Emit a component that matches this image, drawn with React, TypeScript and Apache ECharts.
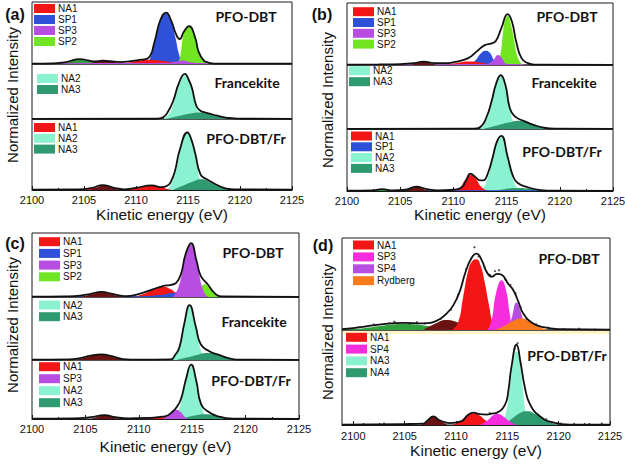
import React, { useEffect, useRef } from "react";
import * as echarts from "echarts";

type Pt = [number, number];

// ---------- colours ----------
const RED = "#f31616";
const BLUE = "#2f50d8";
const VIOLET = "#b84de2";
const LIME = "#72e522";
const AQUA = "#8af2d0";
const TEAL = "#2f9a70";
const DARKRED = "#6b1212";
const SGREEN = "#2fa03c";
const MAGENTA = "#f52ddf";
const ORANGE = "#fb7a1e";

// ---------- tick labels ----------
const xTicksMajor = [2100, 2105, 2110, 2115, 2120, 2125];
const xTicksMinor = [2102.5, 2107.5, 2112.5, 2117.5, 2122.5];

// ---------- panel (a) ----------
const aTopEnvelope: Pt[] = [[2100,0.005],[2102,0.01],[2103.3,0.03],[2104.6,0.08],[2105.5,0.055],[2106,0.04],[2106.8,0.055],[2107.5,0.045],[2108.5,0.03],[2109.5,0.045],[2110.5,0.07],[2111.2,0.1],[2111.8,0.37],[2112.3,0.69],[2112.9,0.83],[2113.4,0.69],[2113.85,0.48],[2114.2,0.4],[2114.6,0.52],[2115.1,0.61],[2115.7,0.42],[2116.0,0.21],[2116.5,0.06],[2117,0.02],[2117.5,0.005],[2125,0.005]];
const aTopSP1: Pt[] = [[2110.8,0],[2111.3,0.07],[2111.8,0.34],[2112.3,0.67],[2112.9,0.82],[2113.4,0.67],[2113.8,0.42],[2114.1,0.18],[2114.4,0.04],[2114.7,0]];
const aTopSP2: Pt[] = [[2114.0,0],[2114.25,0.12],[2114.5,0.42],[2114.75,0.56],[2115.1,0.6],[2115.5,0.5],[2115.8,0.34],[2116.1,0.16],[2116.5,0.04],[2117,0.005],[2117.3,0]];
const aTopNA1: Pt[] = [[2108.5,0],[2109.5,0.03],[2110.5,0.06],[2111.2,0.07],[2112,0.06],[2113,0.04],[2114,0.015],[2114.5,0]];
const aTopSP3: Pt[] = [[2102.5,0],[2103,0.012],[2108,0.015],[2113,0.02],[2114.1,0.045],[2114.5,0.055],[2114.9,0.04],[2115.6,0.02],[2117,0.01],[2117.3,0]];
const aTopGreen: Pt[] = [[2103,0],[2103.8,0.04],[2104.6,0.075],[2105.4,0.05],[2106.2,0.02],[2107,0]];
const aTopDark: Pt[] = [[2105.3,0],[2106.2,0.035],[2106.9,0.05],[2107.7,0.035],[2108.7,0]];

const aMidEnvelope: Pt[] = [[2100,0.003],[2112,0.005],[2112.6,0.03],[2113.1,0.14],[2113.6,0.34],[2114.1,0.64],[2114.7,0.82],[2115.1,0.7],[2115.4,0.55],[2115.8,0.24],[2116.2,0.15],[2116.6,0.12],[2117.2,0.09],[2117.8,0.06],[2118.5,0.03],[2119.2,0.015],[2120,0.005],[2125,0.003]];
const aMidNA2: Pt[] = [[2112.6,0],[2113.2,0.1],[2113.7,0.34],[2114.2,0.64],[2114.7,0.8],[2115.2,0.64],[2115.6,0.36],[2116.0,0.13],[2116.4,0.03],[2116.8,0]];
const aMidNA3: Pt[] = [[2112.8,0],[2114,0.05],[2115.2,0.1],[2116.1,0.12],[2117,0.09],[2118,0.04],[2119,0.005],[2119.3,0]];

const aBotEnvelope: Pt[] = [[2100,0.005],[2104.5,0.008],[2105.8,0.03],[2106.8,0.07],[2107.8,0.035],[2108.8,0.01],[2110,0.03],[2111.5,0.065],[2112.5,0.04],[2113,0.06],[2113.3,0.1],[2113.75,0.27],[2114.2,0.56],[2114.95,0.81],[2115.3,0.72],[2115.7,0.51],[2116.2,0.22],[2116.8,0.15],[2117.8,0.07],[2118.7,0.02],[2119.5,0.008],[2125,0.005]];
const aBotNA1: Pt[] = [[2104.8,0],[2105.8,0.025],[2106.6,0.03],[2107.5,0.02],[2108.5,0.005],[2110,0.03],[2110.8,0.05],[2111.5,0.06],[2112.3,0.045],[2113,0.015],[2113.5,0]];
const aBotDark: Pt[] = [[2105.6,0],[2106.3,0.04],[2106.9,0.06],[2107.6,0.035],[2108.3,0]];
const aBotNA2: Pt[] = [[2113,0],[2113.6,0.15],[2114.1,0.45],[2114.5,0.7],[2114.95,0.8],[2115.4,0.68],[2115.8,0.4],[2116.2,0.12],[2116.6,0.02],[2117,0]];
const aBotNA3: Pt[] = [[2113.5,0],[2114.5,0.06],[2115.5,0.12],[2116.3,0.15],[2117.2,0.1],[2118.2,0.04],[2119,0.005],[2119.3,0]];

// ---------- panel (b) ----------
const bTopEnvelope: Pt[] = [[2100,0.005],[2103,0.01],[2105,0.015],[2106.3,0.03],[2107.2,0.055],[2108.2,0.03],[2109.2,0.03],[2110.15,0.05],[2111.4,0.11],[2112.2,0.22],[2112.95,0.32],[2113.6,0.35],[2114.0,0.39],[2114.5,0.59],[2115.1,0.82],[2115.5,0.7],[2115.9,0.38],[2116.4,0.11],[2117,0.03],[2117.6,0.005],[2125,0.003]];
const bTopSP2: Pt[] = [[2114.1,0],[2114.4,0.15],[2114.65,0.5],[2114.85,0.72],[2115.1,0.8],[2115.4,0.66],[2115.7,0.4],[2116.0,0.15],[2116.4,0.02],[2116.6,0]];
const bTopSP1: Pt[] = [[2111.6,0],[2112.1,0.08],[2112.6,0.19],[2113.0,0.23],[2113.4,0.2],[2113.8,0.08],[2114.1,0]];
const bTopSP3: Pt[] = [[2102,0],[2102.5,0.01],[2113,0.015],[2113.7,0.07],[2114.2,0.16],[2114.6,0.1],[2115.0,0.02],[2116.5,0.01],[2117,0]];
const bTopNA1: Pt[] = [[2109,0],[2110.2,0.03],[2111.5,0.055],[2112.5,0.04],[2113.5,0.01],[2114,0]];
const bTopDark: Pt[] = [[2106,0],[2106.7,0.035],[2107.2,0.05],[2107.8,0.03],[2108.5,0]];

const bMidEnvelope: Pt[] = [[2100,0.003],[2112,0.005],[2112.6,0.04],[2113.1,0.18],[2113.6,0.44],[2114.0,0.7],[2114.45,0.84],[2114.9,0.68],[2115.3,0.33],[2115.75,0.2],[2116.7,0.12],[2117.6,0.06],[2118.5,0.02],[2119.5,0.005],[2125,0.003]];
const bMidNA2: Pt[] = [[2112.5,0],[2113,0.1],[2113.5,0.36],[2114,0.7],[2114.45,0.82],[2114.9,0.66],[2115.3,0.32],[2115.7,0.09],[2116.1,0.01],[2116.3,0]];
const bMidNA3: Pt[] = [[2112.8,0],[2114,0.05],[2115.2,0.1],[2116.2,0.13],[2117.2,0.09],[2118.2,0.03],[2118.8,0]];

const bBotEnvelope: Pt[] = [[2100,0.005],[2102.5,0.01],[2103.3,0.03],[2104.3,0.01],[2105.5,0.02],[2106.5,0.07],[2107.5,0.03],[2108.5,0.01],[2110,0.02],[2110.8,0.06],[2111.2,0.17],[2111.6,0.28],[2112.1,0.22],[2112.5,0.17],[2112.8,0.17],[2113.25,0.29],[2113.7,0.55],[2114.1,0.8],[2114.5,0.89],[2115.1,0.55],[2115.6,0.24],[2116.05,0.13],[2117,0.06],[2118.2,0.015],[2119.5,0.005],[2125,0.003]];
const bBotNA1: Pt[] = [[2110,0],[2110.6,0.05],[2111.1,0.18],[2111.6,0.27],[2112.1,0.2],[2112.6,0.07],[2113.2,0.01],[2113.5,0]];
const bBotSP1: Pt[] = [[2102,0],[2102.5,0.012],[2119,0.012],[2119.5,0]];
const bBotNA2: Pt[] = [[2112.5,0],[2113.1,0.14],[2113.6,0.5],[2114.1,0.8],[2114.5,0.87],[2114.9,0.74],[2115.3,0.42],[2115.7,0.14],[2116.1,0.03],[2116.5,0]];
const bBotNA3: Pt[] = [[2113.5,0],[2114.8,0.03],[2116,0.05],[2117,0.04],[2118.5,0.01],[2119,0]];
const bBotDark: Pt[] = [[2105.5,0],[2106,0.04],[2106.5,0.065],[2107,0.045],[2107.7,0]];
const bBotGreen: Pt[] = [[2102.5,0],[2103.3,0.025],[2104.2,0]];

// ---------- panel (c) ----------
const cTopEnvelope: Pt[] = [[2100,0.005],[2103,0.01],[2104.5,0.02],[2105.5,0.05],[2106.5,0.08],[2107.5,0.05],[2108.8,0.015],[2110.05,0.05],[2111.3,0.12],[2112.25,0.17],[2113.0,0.19],[2113.5,0.22],[2113.95,0.36],[2114.4,0.68],[2114.9,0.84],[2115.4,0.57],[2115.8,0.33],[2116.45,0.2],[2117.1,0.06],[2117.7,0.01],[2125,0.003]];
const cTopSP3: Pt[] = [[2113.2,0],[2113.7,0.15],[2114.2,0.5],[2114.55,0.74],[2114.9,0.82],[2115.25,0.68],[2115.6,0.4],[2116,0.12],[2116.4,0.01],[2116.6,0]];
const cTopSP2: Pt[] = [[2114.8,0],[2115.3,0.06],[2115.8,0.16],[2116.2,0.2],[2116.6,0.15],[2117.1,0.05],[2117.5,0]];
const cTopNA1: Pt[] = [[2109.5,0],[2110.5,0.05],[2111.5,0.13],[2112.25,0.16],[2113,0.12],[2113.6,0.05],[2114.2,0]];
const cTopSP1: Pt[] = [[2102.5,0],[2103,0.01],[2110,0.012],[2112,0.03],[2113.6,0.065],[2114.5,0.04],[2116,0.015],[2117.5,0.008],[2118,0]];
const cTopDark: Pt[] = [[2104.5,0],[2105.5,0.04],[2106.5,0.075],[2107.5,0.04],[2108.5,0]];

const cMidEnvelope: Pt[] = [[2100,0.005],[2103.5,0.01],[2104.5,0.03],[2105.5,0.07],[2106.5,0.09],[2107.5,0.06],[2108.5,0.015],[2110,0.005],[2113,0.01],[2113.4,0.08],[2113.8,0.2],[2114.25,0.57],[2114.75,0.87],[2115.35,0.52],[2115.8,0.25],[2116.6,0.14],[2117.5,0.08],[2118.8,0.015],[2119.5,0.005],[2125,0.003]];
const cMidNA2: Pt[] = [[2113,0],[2113.5,0.1],[2113.9,0.3],[2114.3,0.65],[2114.75,0.85],[2115.2,0.6],[2115.6,0.28],[2116,0.08],[2116.4,0]];
const cMidNA3: Pt[] = [[2113.5,0],[2115,0.06],[2116.5,0.11],[2117.5,0.07],[2118.5,0.02],[2119,0]];
const cMidDark: Pt[] = [[2104.3,0],[2105.3,0.05],[2106.5,0.09],[2107.5,0.05],[2108.5,0]];

const cBotEnvelope: Pt[] = [[2100,0.005],[2104,0.01],[2105.5,0.03],[2106.8,0.065],[2107.8,0.03],[2109,0.01],[2111,0.02],[2112.2,0.04],[2112.55,0.05],[2113,0.1],[2113.5,0.19],[2113.95,0.34],[2114.4,0.66],[2114.9,0.92],[2115.4,0.63],[2115.8,0.27],[2116.45,0.13],[2117.5,0.04],[2118.8,0.005],[2125,0.003]];
const cBotNA2: Pt[] = [[2113.2,0],[2113.7,0.12],[2114.1,0.45],[2114.5,0.8],[2114.9,0.9],[2115.3,0.72],[2115.7,0.35],[2116.1,0.1],[2116.5,0.01],[2116.7,0]];
const cBotNA3: Pt[] = [[2113.8,0],[2115,0.05],[2116.3,0.08],[2117.3,0.06],[2118.5,0.01],[2119,0]];
const cBotSP3: Pt[] = [[2112.2,0],[2112.8,0.06],[2113.4,0.16],[2113.9,0.12],[2114.3,0.04],[2114.6,0]];
const cBotNA1: Pt[] = [[2110.5,0],[2111.5,0.025],[2112.3,0.03],[2113,0.01],[2113.3,0]];
const cBotDark: Pt[] = [[2105.5,0],[2106.2,0.04],[2106.8,0.065],[2107.5,0.03],[2108.2,0]];

// ---------- panel (d) ----------
const dTopEnvelope: Pt[] = [[2098.9,0.01],[2100,0.02],[2102.3,0.055],[2104.9,0.077],[2106.8,0.073],[2108.1,0.1],[2109.1,0.18],[2109.75,0.27],[2110.4,0.43],[2110.9,0.62],[2111.5,0.78],[2112.0,0.83],[2112.5,0.76],[2113,0.63],[2113.5,0.58],[2114.0,0.61],[2114.45,0.6],[2115.1,0.5],[2115.6,0.43],[2116.1,0.3],[2116.55,0.18],[2117.4,0.08],[2118.5,0.03],[2120.1,0.01],[2125,0.005]];
const dTopNA1: Pt[] = [[2109.6,0],[2110.2,0.08],[2110.7,0.36],[2111.2,0.65],[2111.6,0.75],[2112.0,0.77],[2112.4,0.7],[2112.8,0.52],[2113.2,0.28],[2113.6,0.06],[2113.9,0]];
const dTopSP3: Pt[] = [[2113.1,0],[2113.5,0.12],[2113.9,0.4],[2114.45,0.54],[2114.9,0.42],[2115.2,0.2],[2115.5,0.02],[2115.7,0]];
const dTopSP4: Pt[] = [[2115.0,0],[2115.4,0.12],[2115.9,0.3],[2116.3,0.2],[2116.7,0.03],[2116.9,0]];
const dTopRydberg: Pt[] = [[2113.8,0],[2114.8,0.05],[2115.6,0.1],[2116.4,0.125],[2117.2,0.09],[2118.2,0.03],[2119,0]];
const dTopDark: Pt[] = [[2106.8,0],[2107.8,0.06],[2109.1,0.11],[2110.3,0.08],[2111.5,0.035],[2112.7,0]];
const dTopGreen: Pt[] = [[2099,0],[2101,0.02],[2103,0.05],[2104.9,0.065],[2106.5,0.055],[2108.2,0.025],[2109.7,0]];
const dTopDots: Pt[] = [[2100.5,0.03],[2102,0.06],[2103.5,0.075],[2104,0.09],[2105.5,0.07],[2106.2,0.085],[2107,0.07],[2108.5,0.12],[2109.5,0.22],[2110.2,0.38],[2111.0,0.66],[2111.8,0.9],[2112.2,0.8],[2112.8,0.68],[2113.3,0.6],[2113.8,0.64],[2114.2,0.65],[2114.8,0.55],[2115.3,0.49],[2115.8,0.4],[2116.3,0.25],[2116.9,0.12],[2117.8,0.06],[2119,0.025],[2120.5,0.01],[2122,0.015],[2123.5,0.005]];

const dBotEnvelope: Pt[] = [[2098.9,0.005],[2105,0.01],[2106.8,0.015],[2107.2,0.045],[2107.8,0.09],[2108.4,0.05],[2109.4,0.02],[2110.55,0.04],[2111.1,0.1],[2111.7,0.13],[2112.3,0.115],[2113,0.11],[2113.5,0.12],[2114,0.13],[2114.8,0.22],[2115.1,0.36],[2115.4,0.61],[2115.9,0.845],[2116.3,0.65],[2116.7,0.4],[2117.2,0.22],[2118.2,0.09],[2119.5,0.025],[2121.1,0.005],[2125,0.005]];
const dBotNA3: Pt[] = [[2114.2,0],[2114.8,0.1],[2115.3,0.45],[2115.6,0.7],[2115.9,0.78],[2116.2,0.68],[2116.5,0.4],[2116.8,0.12],[2117.1,0.02],[2117.3,0]];
const dBotNA4: Pt[] = [[2114.6,0],[2115.5,0.07],[2116.3,0.13],[2117.0,0.145],[2117.8,0.11],[2118.7,0.05],[2119.6,0.01],[2120,0]];
const dBotSP4: Pt[] = [[2112.3,0],[2113.1,0.05],[2113.6,0.1],[2114.1,0.115],[2114.6,0.09],[2115.2,0.04],[2115.8,0.005],[2116,0]];
const dBotNA1: Pt[] = [[2109.6,0],[2110.4,0.04],[2111.1,0.1],[2111.7,0.125],[2112.3,0.1],[2113,0.04],[2113.7,0.005],[2114,0]];
const dBotDark: Pt[] = [[2106.6,0],[2107.2,0.04],[2107.8,0.085],[2108.4,0.045],[2109.2,0]];
const dBotDots: Pt[] = [[2101,0.01],[2103,0.015],[2105.5,0.012],[2109,0.025],[2113.3,0.125],[2115.7,0.8],[2116.0,0.86],[2118.8,0.06],[2120.2,0.015],[2121.5,0.012],[2123,0.01],[2124.2,0.015]];

// ---------- legends ----------
const legA1: [string, string][] = [["NA1", RED], ["SP1", BLUE], ["SP3", VIOLET], ["SP2", LIME]];
const legA2: [string, string][] = [["NA2", AQUA], ["NA3", TEAL]];
const legA3: [string, string][] = [["NA1", RED], ["NA2", AQUA], ["NA3", TEAL]];
const legB1: [string, string][] = [["NA1", RED], ["SP1", BLUE], ["SP3", VIOLET], ["SP2", LIME]];
const legB2: [string, string][] = [["NA2", AQUA], ["NA3", TEAL]];
const legB3: [string, string][] = [["NA1", RED], ["SP1", BLUE], ["NA2", AQUA], ["NA3", TEAL]];
const legC1: [string, string][] = [["NA1", RED], ["SP1", BLUE], ["SP3", VIOLET], ["SP2", LIME]];
const legC2: [string, string][] = [["NA2", AQUA], ["NA3", TEAL]];
const legC3: [string, string][] = [["NA1", RED], ["SP3", VIOLET], ["NA2", AQUA], ["NA3", TEAL]];
const legD1: [string, string][] = [["NA1", RED], ["SP3", MAGENTA], ["SP4", VIOLET], ["Rydberg", ORANGE]];
const legD2: [string, string][] = [["NA1", RED], ["SP4", MAGENTA], ["NA3", AQUA], ["NA4", TEAL]];

const AXIS_FONT = "'Liberation Sans', Arial, sans-serif";
const BOLD_FONT = "Lato, 'Open Sans', sans-serif";

interface Sub {
  left: number; top: number; width: number; height: number; xmin: number;
  comps: [Pt[], string][]; env: Pt[]; dots?: Pt[];
  axis?: { labelMargin: number; nameGap: number; custom?: boolean };
  sample: string; sx: number; sy: number;
  legend: [string, string][]; lx: number; ly: number; lstep: number;
}

const SMOOTH = 0.5;

function buildOption() {
  const subs: Sub[] = [
    { left: 32, top: 2, width: 260, height: 62, xmin: 2100, comps: [[aTopSP1, BLUE], [aTopSP2, LIME], [aTopNA1, RED], [aTopGreen, SGREEN], [aTopDark, DARKRED], [aTopSP3, VIOLET]], env: aTopEnvelope, sample: "PFO-DBT", sx: 246, sy: 16, legend: legA1, lx: 34, ly: 8.5, lstep: 11 },
    { left: 32, top: 64, width: 260, height: 55, xmin: 2100, comps: [[aMidNA2, AQUA], [aMidNA3, TEAL]], env: aMidEnvelope, sample: "Francekite", sx: 247, sy: 82, legend: legA2, lx: 37, ly: 78.5, lstep: 11 },
    { left: 32, top: 119, width: 260, height: 71, xmin: 2100, comps: [[aBotNA2, AQUA], [aBotNA3, TEAL], [aBotNA1, RED], [aBotDark, DARKRED]], env: aBotEnvelope, axis: { labelMargin: 4, nameGap: 16 }, sample: "PFO-DBT/Fr", sx: 246, sy: 138, legend: legA3, lx: 34, ly: 127.5, lstep: 10.8 },

    { left: 347, top: 3, width: 266, height: 62, xmin: 2100, comps: [[bTopSP2, LIME], [bTopSP1, BLUE], [bTopNA1, RED], [bTopSP3, VIOLET], [bTopDark, DARKRED]], env: bTopEnvelope, sample: "PFO-DBT", sx: 567, sy: 16, legend: legB1, lx: 353, ly: 11.7, lstep: 10.8 },
    { left: 347, top: 65, width: 266, height: 64, xmin: 2100, comps: [[bMidNA2, AQUA], [bMidNA3, TEAL]], env: bMidEnvelope, sample: "Francekite", sx: 564, sy: 82, legend: legB2, lx: 349, ly: 70.7, lstep: 11 },
    { left: 347, top: 129, width: 266, height: 62, xmin: 2100, comps: [[bBotNA2, AQUA], [bBotNA3, TEAL], [bBotNA1, RED], [bBotSP1, BLUE], [bBotDark, DARKRED], [bBotGreen, SGREEN]], env: bBotEnvelope, axis: { labelMargin: 4, nameGap: 15 }, sample: "PFO-DBT/Fr", sx: 562, sy: 151, legend: legB3, lx: 351, ly: 136, lstep: 10.8 },

    { left: 32, top: 233, width: 267, height: 64, xmin: 2100, comps: [[cTopNA1, RED], [cTopSP1, BLUE], [cTopSP2, LIME], [cTopSP3, VIOLET], [cTopDark, DARKRED]], env: cTopEnvelope, sample: "PFO-DBT", sx: 253, sy: 252, legend: legC1, lx: 39, ly: 241.7, lstep: 11.7 },
    { left: 32, top: 297, width: 267, height: 63, xmin: 2100, comps: [[cMidNA2, AQUA], [cMidNA3, TEAL], [cMidDark, DARKRED]], env: cMidEnvelope, sample: "Francekite", sx: 254, sy: 321, legend: legC2, lx: 39, ly: 305, lstep: 11.7 },
    { left: 32, top: 360, width: 267, height: 59, xmin: 2100, comps: [[cBotNA2, AQUA], [cBotNA3, TEAL], [cBotNA1, RED], [cBotSP3, VIOLET], [cBotDark, DARKRED]], env: cBotEnvelope, axis: { labelMargin: 4, nameGap: 19 }, sample: "PFO-DBT/Fr", sx: 251, sy: 380, legend: legC3, lx: 39, ly: 366.7, lstep: 12 },

    { left: 342, top: 238, width: 268, height: 92, xmin: 2098.9, comps: [[dTopGreen, SGREEN], [dTopDark, DARKRED], [dTopNA1, RED], [dTopSP3, MAGENTA], [dTopSP4, VIOLET], [dTopRydberg, ORANGE]], env: dTopEnvelope, dots: dTopDots, sample: "PFO-DBT", sx: 569, sy: 258, legend: legD1, lx: 353, ly: 245, lstep: 11.9 },
    { left: 342, top: 330, width: 268, height: 95, xmin: 2098.9, comps: [[dBotNA3, AQUA], [dBotNA4, TEAL], [dBotNA1, RED], [dBotSP4, MAGENTA], [dBotDark, DARKRED]], env: dBotEnvelope, dots: dBotDots, axis: { labelMargin: 5, nameGap: 17, custom: true }, sample: "PFO-DBT/Fr", sx: 567, sy: 355, legend: legD2, lx: 346, ly: 337.3, lstep: 11.8 },
  ];

  const grid: any[] = [];
  const xAxis: any[] = [];
  const yAxis: any[] = [];
  const series: any[] = [];
  const graphic: any[] = [];

  subs.forEach((s, i) => {
    grid.push({
      left: s.left, top: s.top, width: s.width, height: s.height,
      show: true, borderColor: "#1a1a1a", borderWidth: 1, backgroundColor: "transparent",
      containLabel: false, outerBoundsMode: "none",
    });
    const ax: any = {
      type: "value", gridIndex: i, min: s.xmin, max: 2125, show: !!s.axis,
      splitLine: { show: false },
    };
    if (s.axis) {
      Object.assign(ax, {
        axisLine: { show: true, onZero: false, lineStyle: { color: "#1a1a1a", width: 1 } },
        axisLabel: { show: true, margin: s.axis.labelMargin, fontSize: 11, color: "#111", fontFamily: AXIS_FONT, formatter: (v: number) => String(v) },
        axisTick: { show: true, inside: true, length: 4, lineStyle: { color: "#1a1a1a" } },
        name: "Kinetic energy (eV)", nameLocation: "middle", nameGap: s.axis.nameGap,
        nameTextStyle: { fontSize: 15.5, color: "#111", fontFamily: AXIS_FONT },
      });
      if (s.axis.custom) {
        ax.axisLabel.customValues = xTicksMajor;
        ax.axisTick.customValues = xTicksMajor;
      } else {
        ax.interval = 5;
        ax.minorTick = { show: true, splitNumber: 2, length: 2, lineStyle: { color: "#1a1a1a" } };
      }
    }
    xAxis.push(ax);
    yAxis.push({ type: "value", gridIndex: i, min: 0, max: 1, show: false, splitLine: { show: false } });

    s.comps.forEach(([data, color]) => {
      series.push({
        type: "line", xAxisIndex: i, yAxisIndex: i, data, smooth: SMOOTH,
        symbol: "none", silent: true, lineStyle: { width: 0, color }, itemStyle: { color },
        areaStyle: { color, opacity: 1 }, z: 2,
      });
    });
    series.push({
      type: "line", xAxisIndex: i, yAxisIndex: i, data: s.env, smooth: SMOOTH,
      symbol: "none", silent: true, lineStyle: { width: 1.8, color: "#111" }, z: 4,
    });
    if (s.dots) {
      series.push({
        type: "scatter", xAxisIndex: i, yAxisIndex: i, data: s.dots, symbolSize: 2.2,
        itemStyle: { color: "#222" }, silent: true, z: 5,
      });
    }

    graphic.push({
      type: "text", x: s.sx, y: s.sy, z: 10,
      style: { text: s.sample, fontSize: 14, fontWeight: "bold", fontFamily: BOLD_FONT, fill: "#111", align: "center", verticalAlign: "middle" },
    });
    s.legend.forEach(([name, color], k) => {
      const cy = s.ly + k * s.lstep;
      graphic.push({ type: "rect", z: 10, shape: { x: s.lx, y: cy - 4.5, width: 21, height: 9 }, style: { fill: color } });
      graphic.push({
        type: "text", x: s.lx + 24, y: cy, z: 10,
        style: { text: name, fontSize: 10, fontFamily: AXIS_FONT, fill: "#111", align: "left", verticalAlign: "middle" },
      });
    });
  });

  // minor ticks for panel (d)
  xAxis.push({
    type: "value", gridIndex: 10, min: 2098.9, max: 2125, position: "bottom",
    axisLine: { show: false }, axisLabel: { show: false }, splitLine: { show: false },
    axisTick: { show: true, inside: true, length: 2, customValues: xTicksMinor, lineStyle: { color: "#1a1a1a" } },
  });

  const panelLabels: [string, number, number][] = [["(a)", 15, 14], ["(b)", 322, 14], ["(c)", 15, 243], ["(d)", 323, 245]];
  panelLabels.forEach(([t, x, y]) => {
    graphic.push({ type: "text", x, y, z: 10, style: { text: t, fontSize: 16, fontWeight: "bold", fontFamily: AXIS_FONT, fill: "#111", align: "center", verticalAlign: "middle" } });
  });
  const yTitles: [number, number][] = [[12, 95], [327, 100], [12, 325], [327, 332]];
  yTitles.forEach(([x, y]) => {
    graphic.push({ type: "text", x, y, rotation: Math.PI / 2, z: 10, style: { text: "Normalized Intensity", fontSize: 15, fontFamily: AXIS_FONT, fill: "#111", align: "center", verticalAlign: "middle" } });
  });
  graphic.push({ type: "rect", z: 1, shape: { x: 343, y: 331, width: 266, height: 3 }, style: { fill: "#fff4c8" } });

  return { animation: false, backgroundColor: "#fff", grid, xAxis, yAxis, series, graphic };
}

export default function App() {
  const ref = useRef<HTMLDivElement>(null);
  useEffect(() => {
    if (!ref.current) return;
    const chart = echarts.init(ref.current, undefined, { renderer: "svg" });
    chart.setOption(buildOption() as any);
    return () => chart.dispose();
  }, []);
  return <div ref={ref} style={{ position: "absolute", left: 0, top: 0, width: 625, height: 465, background: "#fff" }} />;
}
